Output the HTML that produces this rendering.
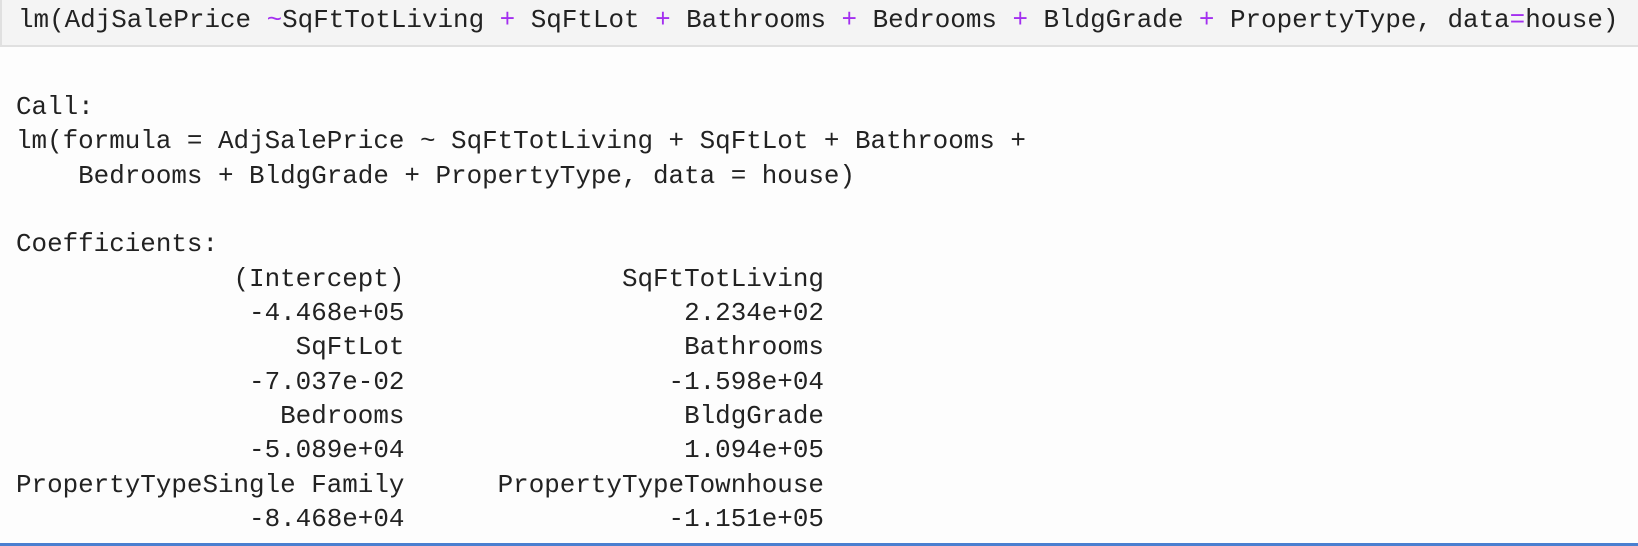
<!DOCTYPE html>
<html><head><meta charset="utf-8"><style>
html,body{margin:0;padding:0;background:#fdfdfd;width:1638px;height:546px;overflow:hidden;position:relative}
.inp{position:absolute;left:0;top:0;width:1638px;height:47px;background:#f4f4f4;border-left:2px solid #e0e0e0;border-bottom:2px solid #e0e0e0;box-sizing:border-box}
.mono{font-family:"Liberation Mono","DejaVu Sans Mono",monospace;font-size:25.9px;color:#222;white-space:pre}
.inp .mono{position:absolute;left:16px;top:3px;line-height:34px}
.p{color:#a32ff0}
.out{position:absolute;left:16px;top:90px;line-height:34.35px}
.bl{position:absolute;left:0;top:543px;width:1638px;height:3px;background:#4a7fd0}
</style></head><body>
<div class="inp"><div class="mono">lm(AdjSalePrice <span class="p">~</span>SqFtTotLiving <span class="p">+</span> SqFtLot <span class="p">+</span> Bathrooms <span class="p">+</span> Bedrooms <span class="p">+</span> BldgGrade <span class="p">+</span> PropertyType, data<span class="p">=</span>house)</div></div>
<div class="mono out">Call:
lm(formula = AdjSalePrice ~ SqFtTotLiving + SqFtLot + Bathrooms + 
    Bedrooms + BldgGrade + PropertyType, data = house)

Coefficients:
              (Intercept)              SqFtTotLiving  
               -4.468e+05                  2.234e+02  
                  SqFtLot                  Bathrooms  
               -7.037e-02                 -1.598e+04  
                 Bedrooms                  BldgGrade  
               -5.089e+04                  1.094e+05  
PropertyTypeSingle Family      PropertyTypeTownhouse  
               -8.468e+04                 -1.151e+05  </div>
<div class="bl"></div>
</body></html>
